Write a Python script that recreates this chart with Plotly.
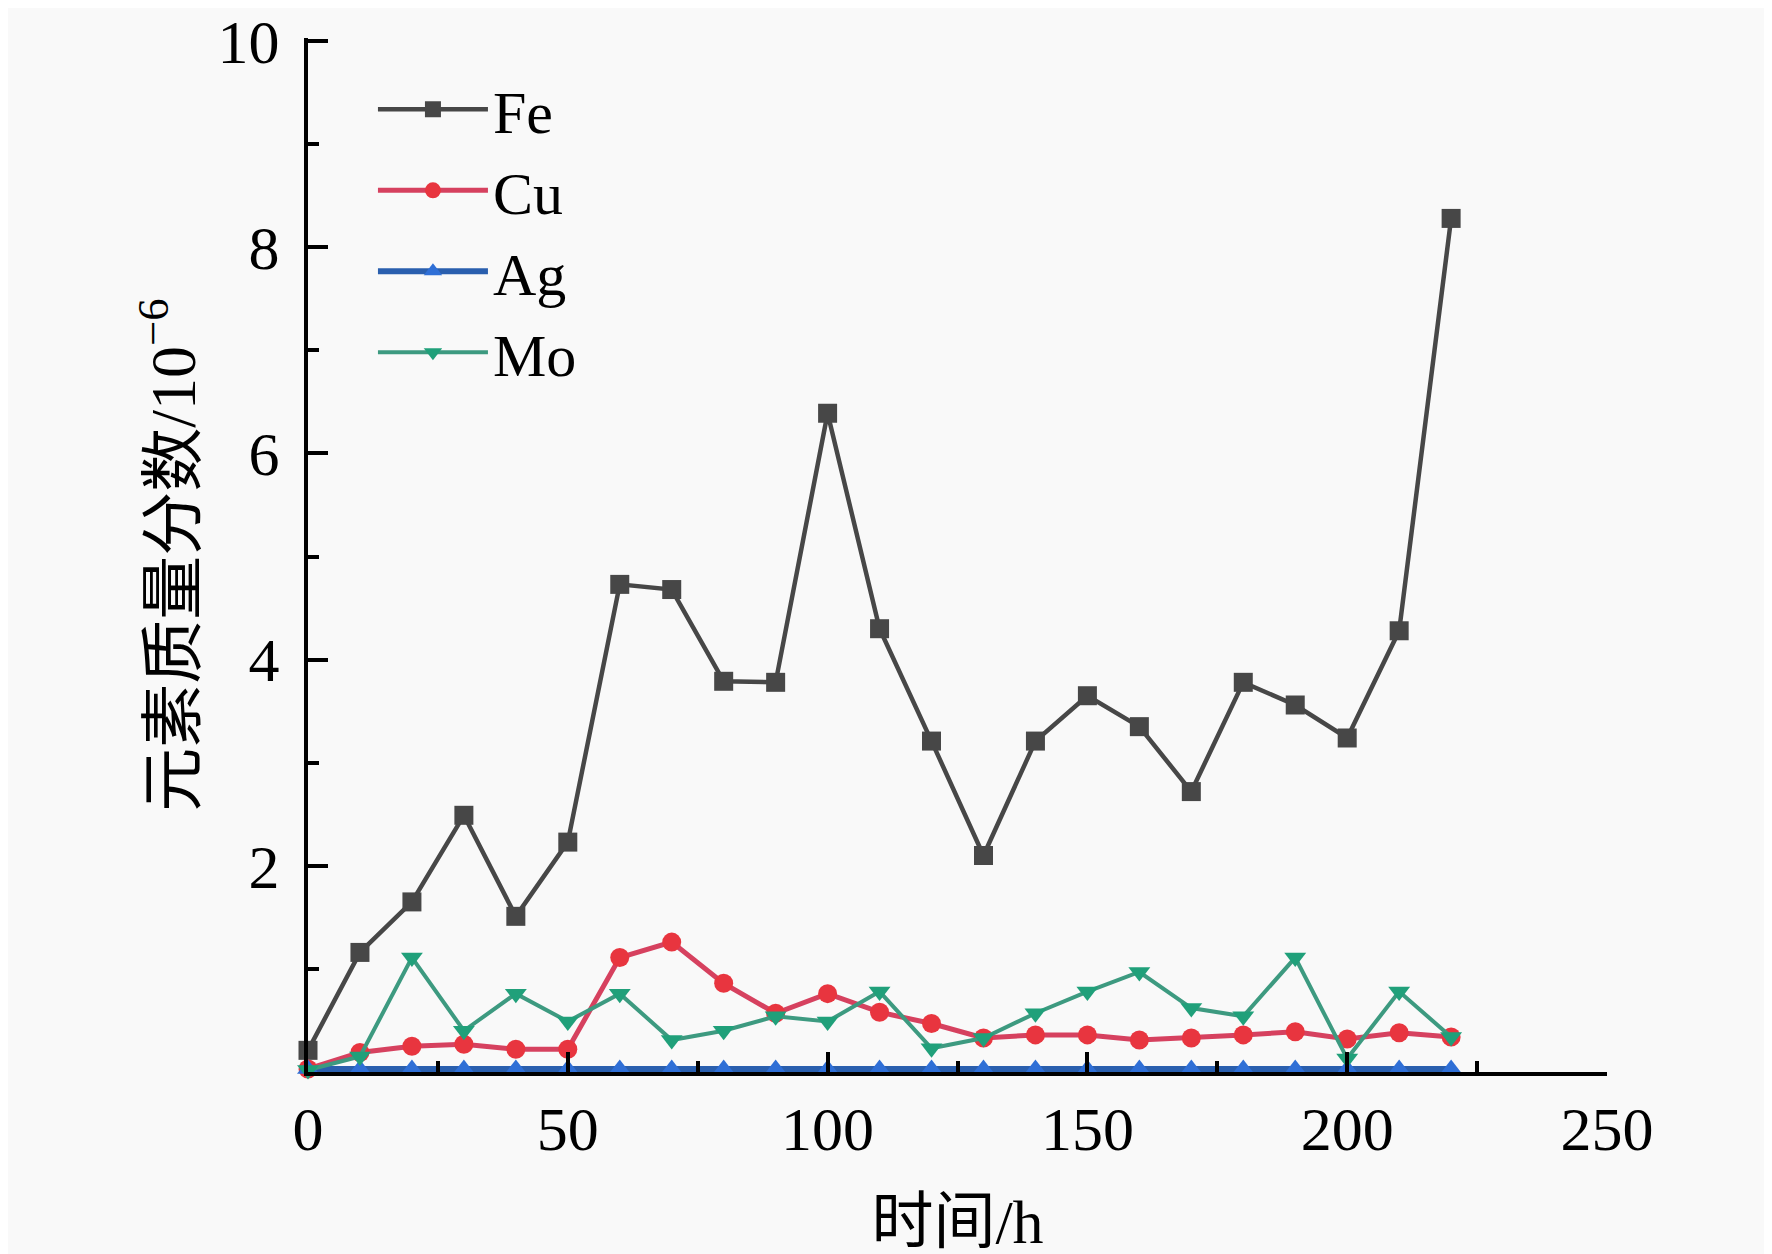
import plotly.graph_objects as go

hours = [0, 10, 20, 30, 40, 50, 60, 70, 80, 90, 100, 110, 120, 130, 140, 150,
         160, 170, 180, 190, 200, 210, 220]
fe = [0.21, 1.16, 1.65, 2.49, 1.51, 2.23, 4.73, 4.68, 3.79, 3.78, 6.39, 4.30,
      3.21, 2.10, 3.21, 3.65, 3.35, 2.72, 3.78, 3.56, 3.24, 4.28, 8.28]
cu = [0.03, 0.19, 0.25, 0.27, 0.22, 0.22, 1.11, 1.26, 0.86, 0.57, 0.76, 0.58,
      0.47, 0.33, 0.36, 0.36, 0.31, 0.33, 0.36, 0.39, 0.32, 0.38, 0.34]
ag = [0.03] * 23
mo = [0.02, 0.15, 1.11, 0.40, 0.76, 0.49, 0.76, 0.31, 0.40, 0.54, 0.49, 0.78,
      0.23, 0.33, 0.57, 0.78, 0.97, 0.62, 0.54, 1.11, 0.13, 0.78, 0.34]

names = ["Fe", "Cu", "Ag", "Mo"]
line_colors = ["#474747", "#d6415f", "#2a5fae", "#3d9a80"]
marker_colors = ["#474747", "#e8353f", "#2f6fd6", "#20a07a"]
symbols = ["square", "circle", "triangle-up", "triangle-down"]
widths = [4.5, 5, 6, 4]
series = [fe, cu, ag, mo]

fig = go.Figure()
for name, ys, lc, mc, sym, w in zip(names, series, line_colors, marker_colors, symbols, widths):
    fig.add_trace(go.Scatter(
        x=hours, y=ys, name=name, mode="lines+markers",
        line=dict(color=lc, width=w),
        marker=dict(symbol=sym, size=19, color=mc, line=dict(width=0)),
        cliponaxis=False,
    ))

serif = "Liberation Serif, Times New Roman, Noto Sans CJK SC, serif"
cjk = "Liberation Serif, Noto Sans CJK SC, serif"

fig.update_layout(
    width=1772, height=1254,
    paper_bgcolor="#f9f9f9", plot_bgcolor="#f9f9f9",
    margin=dict(l=300, r=173, t=30, b=190),
    font=dict(family=serif, size=62, color="black"),
    showlegend=True,
    legend=dict(x=0.05, y=0.975, xanchor="left", yanchor="top",
                bgcolor="rgba(0,0,0,0)", font=dict(size=60, family=serif),
                itemwidth=110, tracegroupgap=0),
    xaxis=dict(range=[0, 250], tickvals=[0, 50, 100, 150, 200, 250],
               ticks="inside", ticklen=20, tickwidth=3.5, tickcolor="black",
               minor=dict(tickvals=[25, 75, 125, 175, 225], ticks="inside",
                          ticklen=11, tickwidth=3.5, tickcolor="black"),
               showline=True, linecolor="black", linewidth=4,
               showgrid=False, zeroline=False, automargin=False,
               ticklabeloverflow="allow",
               tickfont=dict(size=62, family=serif),
               title=dict(text="时间/h", font=dict(size=62, family=cjk), standoff=38)),
    yaxis=dict(range=[0, 10.03], tickvals=[2, 4, 6, 8, 10],
               ticks="inside", ticklen=20, tickwidth=3.5, tickcolor="black",
               minor=dict(tickvals=[0, 1, 3, 5, 7, 9], ticks="inside",
                          ticklen=11, tickwidth=3.5, tickcolor="black"),
               showline=True, linecolor="black", linewidth=4,
               showgrid=False, zeroline=False, automargin=False,
               ticklabelstandoff=12, ticklabeloverflow="allow",
               tickfont=dict(size=62, family=serif),
               title=dict(text="元素质量分数/10<sup>−6</sup>", font=dict(size=64, family=cjk), standoff=2)),
)

fig.write_html("out.html")
